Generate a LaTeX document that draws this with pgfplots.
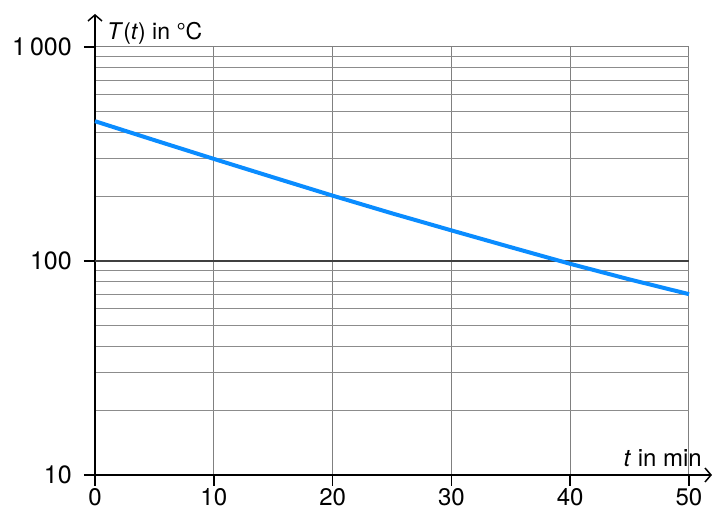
\documentclass[border=0pt]{standalone}
\usepackage{fontspec}
\setmainfont{TeX Gyre Heros}
\usepackage{pgfplots}
\pgfplotsset{compat=1.18}
\usetikzlibrary{arrows.meta}
\definecolor{lineblue}{RGB}{10,140,255}
\begin{document}
\fontsize{24}{28}\selectfont
\begin{tikzpicture}[x=1pt,y=1pt]
\path[use as bounding box] (-95,-36) rectangle (621,475);
\begin{axis}[
  at={(0,0)}, anchor=south west,
  scale only axis, width=594pt, height=428pt,
  xmin=0, xmax=50, ymin=10, ymax=1000, ymode=log,
  axis lines=left,
  axis line style={line width=1.5pt, black},
  x axis line style={-{Straight Barb[length=6pt,width=14pt,line width=1.5pt]}, shorten >=-23pt},
  y axis line style={-{Straight Barb[length=6pt,width=14pt,line width=1.5pt]}, shorten >=-33pt},
  xtick={0,10,20,30,40,50},
  ytick={10,100,1000},
  yticklabels={10,100,1\,000},
  tick align=outside,
  major tick length=11pt,
  minor tick length=0pt,
  major tick style={line width=1.5pt, black},
  grid=both,
  major grid style={line width=1pt, black!50},
  minor grid style={line width=1pt, black!45},
  extra y ticks={100},
  extra y tick labels={},
  extra y tick style={grid=major, major grid style={line width=1.2pt, black!75}},
  /pgf/number format/assume math mode=true,
  tick label style={font=\fontsize{25}{30}\selectfont},
  yticklabel style={xshift=-4pt},
  xticklabel style={inner sep=0pt, yshift=-2pt, font=\fontsize{24}{29}\selectfont},
  clip=false,
]
\addplot[lineblue, line width=4pt] coordinates {
 (0,450) (5,367) (10,300) (15,246) (20,202) (25,167) (30,139) (35,116) (40,97) (45,82) (50,70)
};
\node[anchor=base west, inner sep=0pt, font=\fontsize{23}{27}\selectfont] at (rel axis cs:0,1) [xshift=12pt, yshift=7pt] {\textit{T}(\textit{t}) in °C};
\node[anchor=base east, inner sep=0pt] at (rel axis cs:1,0) [xshift=13pt, yshift=8pt] {\textit{t} in min};
\end{axis}
\end{tikzpicture}
\end{document}
